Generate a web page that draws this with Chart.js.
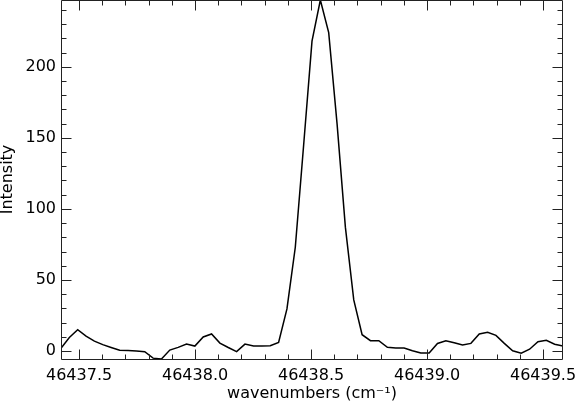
<!DOCTYPE html>
<html>
<head>
<meta charset="utf-8">
<script src="https://cdn.jsdelivr.net/npm/chart.js@4.4.1/dist/chart.umd.min.js"></script>
<style>
  html, body { margin: 0; padding: 0; background: #fff; }
  #wrap { width: 575px; height: 403px; }
</style>
</head>
<body>
<div id="wrap"><canvas id="spectrum" width="575" height="403"></canvas></div>
<script>
// Spectrum data
const wavenumbers = [
  46437.422, 46437.458, 46437.494, 46437.530, 46437.566, 46437.602, 46437.638, 46437.675, 46437.711, 46437.747,
  46437.783, 46437.819, 46437.855, 46437.891, 46437.927, 46437.963, 46437.999, 46438.035, 46438.071, 46438.107,
  46438.143, 46438.179, 46438.215, 46438.252, 46438.288, 46438.324, 46438.360, 46438.396, 46438.432, 46438.468,
  46438.504, 46438.540, 46438.576, 46438.612, 46438.648, 46438.684, 46438.720, 46438.756, 46438.792, 46438.829,
  46438.865, 46438.901, 46438.937, 46438.973, 46439.009, 46439.045, 46439.081, 46439.117, 46439.153, 46439.189,
  46439.225, 46439.261, 46439.297, 46439.333, 46439.369, 46439.406, 46439.442, 46439.478, 46439.514, 46439.550,
  46439.586
];
const intensity = [
  1.9, 9.5, 15.0, 10.5, 7.0, 4.5, 2.5, 0.5, 0.3, 0.0,
  -0.5, -5.0, -5.6, 0.7, 2.6, 4.9, 3.5, 9.9, 12.0, 5.6,
  2.5, -0.4, 4.9, 3.5, 3.5, 3.7, 6.1, 29.6, 73.0, 145.0,
  218.0, 247.0, 224.0, 160.0, 87.0, 36.0, 11.5, 7.3, 7.3, 2.6,
  2.2, 2.1, 0.2, -1.4, -1.4, 5.3, 7.2, 5.8, 4.2, 5.4,
  12.0, 13.2, 11.0, 5.4, 0.2, -1.5, 1.3, 6.6, 7.5, 4.8,
  3.5
];

// Axis ranges and tick labels
const xRange = [46437.422, 46439.586];
const yRange = [-5.6, 247];
const xTickValues = [46437.5, 46438.0, 46438.5, 46439.0, 46439.5];
const yTickValues = [0, 50, 100, 150, 200];
const xMinorStep = 0.1;
const yMinorStep = 10;

Chart.defaults.font.family = "'DejaVu Sans', sans-serif";
Chart.defaults.font.size = 16;
Chart.defaults.color = '#000';

// IDL-like frame with inward ticks on all four sides
const frameTicks = {
  id: 'frameTicks',
  afterDatasetsDraw(chart) {
    const { ctx, chartArea: a, scales: { x, y } } = chart;
    const L = Math.round(a.left) + 0.5;
    const R = Math.round(a.right) - 0.5;
    const T = Math.round(a.top) + 0.5;
    const B = Math.round(a.bottom) + 0.5;
    ctx.save();
    ctx.strokeStyle = '#222';
    ctx.lineWidth = 1;
    ctx.beginPath();
    ctx.moveTo(L, T); ctx.lineTo(R, T); ctx.lineTo(R, B); ctx.lineTo(L, B); ctx.closePath();

    const xMarks = [];
    for (let v = Math.ceil(xRange[0] / xMinorStep) * xMinorStep; v <= xRange[1]; v += xMinorStep) {
      const major = xTickValues.some(t => Math.abs(t - v) < 1e-6);
      xMarks.push([Math.round(x.getPixelForValue(v)) + 0.5, major ? 10 : 5]);
    }
    xMarks.forEach(([px, len]) => {
      ctx.moveTo(px, B); ctx.lineTo(px, B - len);
      ctx.moveTo(px, T); ctx.lineTo(px, T + len);
    });

    for (let v = Math.ceil(yRange[0] / yMinorStep) * yMinorStep; v <= yRange[1]; v += yMinorStep) {
      const len = yTickValues.includes(v) ? 10 : 5;
      const py = Math.round(y.getPixelForValue(v)) + 0.5;
      ctx.moveTo(L, py); ctx.lineTo(L + len, py);
      ctx.moveTo(R, py); ctx.lineTo(R - len, py);
    }
    ctx.stroke();
    ctx.restore();
  }
};

const ctx = document.getElementById('spectrum').getContext('2d');
new Chart(ctx, {
  type: 'line',
  data: {
    datasets: [{
      data: wavenumbers.map((w, i) => ({ x: w, y: intensity[i] })),
      borderColor: '#000',
      borderWidth: 1.5,
      pointRadius: 0,
      tension: 0,
      fill: false
    }]
  },
  options: {
    responsive: false,
    animation: false,
    layout: { padding: { top: 0, right: 12, bottom: 0, left: 0 } },
    plugins: {
      legend: { display: false },
      tooltip: { enabled: false }
    },
    scales: {
      x: {
        type: 'linear',
        min: xRange[0],
        max: xRange[1],
        grid: { display: false, drawTicks: false },
        border: { display: false },
        afterBuildTicks: scale => { scale.ticks = xTickValues.map(v => ({ value: v })); },
        afterFit: scale => { scale.height = 44; scale.paddingLeft = 0; scale.paddingRight = 0; },
        ticks: {
          padding: 7,
          maxRotation: 0,
          autoSkip: false,
          callback: v => v.toFixed(1)
        },
        title: {
          display: true,
          text: 'wavenumbers (cm⁻¹)',
          padding: { top: 0, bottom: 0 }
        }
      },
      y: {
        min: yRange[0],
        max: yRange[1],
        grid: { display: false, drawTicks: false },
        border: { display: false },
        afterBuildTicks: scale => { scale.ticks = yTickValues.map(v => ({ value: v })); },
        afterFit: scale => { scale.width = 61; scale.paddingTop = 0; scale.paddingBottom = 0; },
        ticks: {
          padding: 5,
          callback: v => String(v)
        },
        title: {
          display: true,
          text: 'Intensity',
          font: { lineHeight: 1 },
          padding: 0
        }
      }
    }
  },
  plugins: [frameTicks]
});
</script>
</body>
</html>
